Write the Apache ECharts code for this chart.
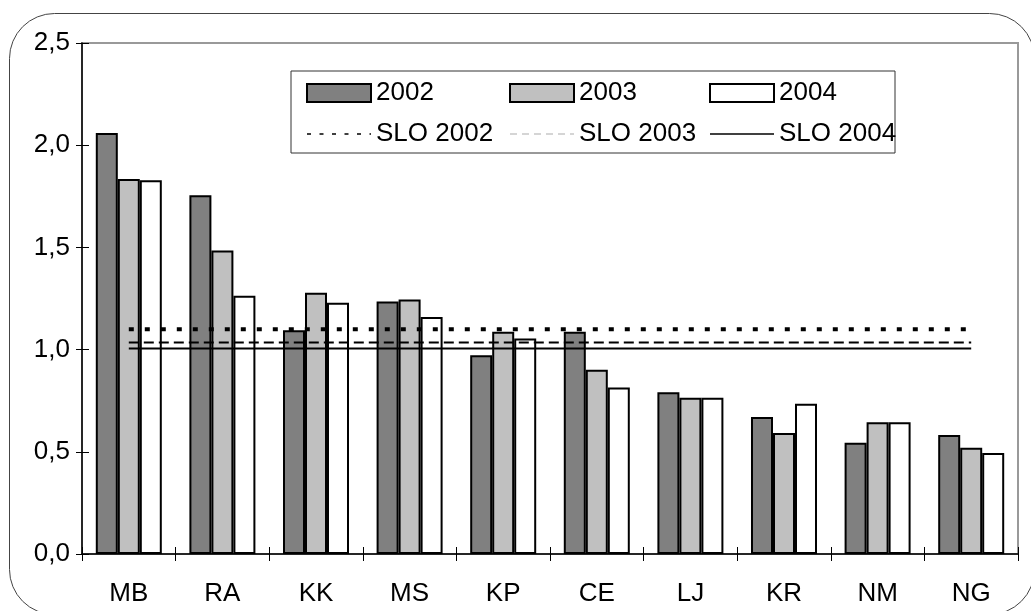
<!DOCTYPE html>
<html>
<head>
<meta charset="utf-8">
<script src="https://cdn.jsdelivr.net/npm/echarts@6/dist/echarts.min.js"></script>
<style>
html,body{margin:0;padding:0;background:#fff;}
#c{width:1031px;height:611px;}
</style>
</head>
<body>
<div id="c"></div>
<script>
const categories = ['MB','RA','KK','MS','KP','CE','LJ','KR','NM','NG'];
const v2002 = [2.06, 1.755, 1.095, 1.235, 0.972, 1.087, 0.791, 0.670, 0.544, 0.582];
const v2003 = [1.835, 1.485, 1.278, 1.245, 1.087, 0.902, 0.765, 0.592, 0.645, 0.520];
const v2004 = [1.828, 1.263, 1.229, 1.160, 1.054, 0.815, 0.765, 0.735, 0.645, 0.494];
const slo2002 = [1.10, 1.10, 1.10, 1.10, 1.10, 1.10, 1.10, 1.10, 1.10, 1.10];
const slo2003 = [1.035, 1.035, 1.035, 1.035, 1.035, 1.035, 1.035, 1.035, 1.035, 1.035];
const slo2004 = [1.005, 1.005, 1.005, 1.005, 1.005, 1.005, 1.005, 1.005, 1.005, 1.005];
const yTickLabels = ['0,0','0,5','1,0','1,5','2,0','2,5'];

const FONT = "'Liberation Sans', Arial, sans-serif";
const chart = echarts.init(document.getElementById('c'), null, {renderer:'canvas'});

const barStyle = (c) => ({color: c, borderColor: '#000', borderWidth: 2});
const legendCommon = {
  orient: 'vertical', top: 80, padding: 0, itemGap: 15,
  itemWidth: 64, itemHeight: 18,
  textStyle: {fontFamily: FONT, fontSize: 26, color: '#000'},
  selectedMode: false
};
const hiddenSym = {opacity: 0};

chart.setOption({
  animation: false,
  backgroundColor: '#fff',
  graphic: [
    {type: 'rect', shape: {x: 9.5, y: 13.5, width: 1025, height: 601, r: 45},
     style: {fill: 'none', stroke: '#444', lineWidth: 1}, silent: true, z: -10},
    {type: 'rect', shape: {x: 291, y: 71, width: 604, height: 82},
     style: {fill: '#fff', stroke: '#333', lineWidth: 1}, silent: true, z: 0}
  ],
  grid: {left: 82, right: 13, top: 43, bottom: 57, show: true,
         borderColor: '#999', borderWidth: 2, backgroundColor: 'transparent'},
  legend: [
    Object.assign({}, legendCommon, {left: 306, data: [
      {name: '2002', icon: 'rect'},
      {name: 'SLO 2002', itemStyle: hiddenSym, lineStyle: {color: '#000', width: 1.5, type: [4, 8.5]}}
    ]}),
    Object.assign({}, legendCommon, {left: 509, data: [
      {name: '2003', icon: 'rect'},
      {name: 'SLO 2003', itemStyle: hiddenSym, lineStyle: {color: '#c8c8c8', width: 1.5, type: [7, 5]}}
    ]}),
    Object.assign({}, legendCommon, {left: 709, data: [
      {name: '2004', icon: 'rect'},
      {name: 'SLO 2004', itemStyle: hiddenSym, lineStyle: {color: '#000', width: 1.5, type: 'solid'}}
    ]})
  ],
  xAxis: [
    {type: 'category', data: categories, boundaryGap: true,
     axisLine: {lineStyle: {color: '#000', width: 1.5}},
     axisTick: {show: true, length: 7, lineStyle: {color: '#000', width: 1}},
     axisLabel: {fontFamily: FONT, fontSize: 26, color: '#000', margin: 27},
     splitLine: {show: false}},
    {type: 'category', data: categories, boundaryGap: true, position: 'bottom',
     axisLine: {show: false},
     axisTick: {show: true, inside: true, length: 7, lineStyle: {color: '#000', width: 1}},
     axisLabel: {show: false}, splitLine: {show: false}}
  ],
  yAxis: [
    {type: 'value', min: 0, max: 2.5, interval: 0.5,
     axisLine: {show: true, lineStyle: {color: '#000', width: 1.5}},
     axisTick: {show: true, length: 6, lineStyle: {color: '#000', width: 1}},
     axisLabel: {fontFamily: FONT, fontSize: 26, color: '#000', margin: 12,
       formatter: (v) => yTickLabels[Math.round(v / 0.5)]},
     splitLine: {show: false}},
    {type: 'value', min: 0, max: 2.5, interval: 0.5, position: 'left',
     axisLine: {show: false},
     axisTick: {show: true, inside: true, length: 7, lineStyle: {color: '#000', width: 1}},
     axisLabel: {show: false}, splitLine: {show: false}}
  ],
  series: [
    {name: '2002', type: 'bar', data: v2002, barWidth: 22, barGap: '0%', itemStyle: barStyle('#808080')},
    {name: '2003', type: 'bar', data: v2003, barWidth: 22, barGap: '0%', itemStyle: barStyle('#c0c0c0')},
    {name: '2004', type: 'bar', data: v2004, barWidth: 22, barGap: '0%', itemStyle: barStyle('#ffffff')},
    {name: 'SLO 2002', type: 'line', data: slo2002, symbol: 'none', itemStyle: {color: '#000'},
     lineStyle: {color: '#000', width: 4, type: [5, 11]}, z: 5},
    {name: 'SLO 2003', type: 'line', data: slo2003, symbol: 'none', itemStyle: {color: '#000'},
     lineStyle: {color: '#000', width: 2, type: [10, 5]}, z: 5},
    {name: 'SLO 2004', type: 'line', data: slo2004, symbol: 'none', itemStyle: {color: '#000'},
     lineStyle: {color: '#000', width: 2, type: 'solid'}, z: 5}
  ]
});
</script>
</body>
</html>
